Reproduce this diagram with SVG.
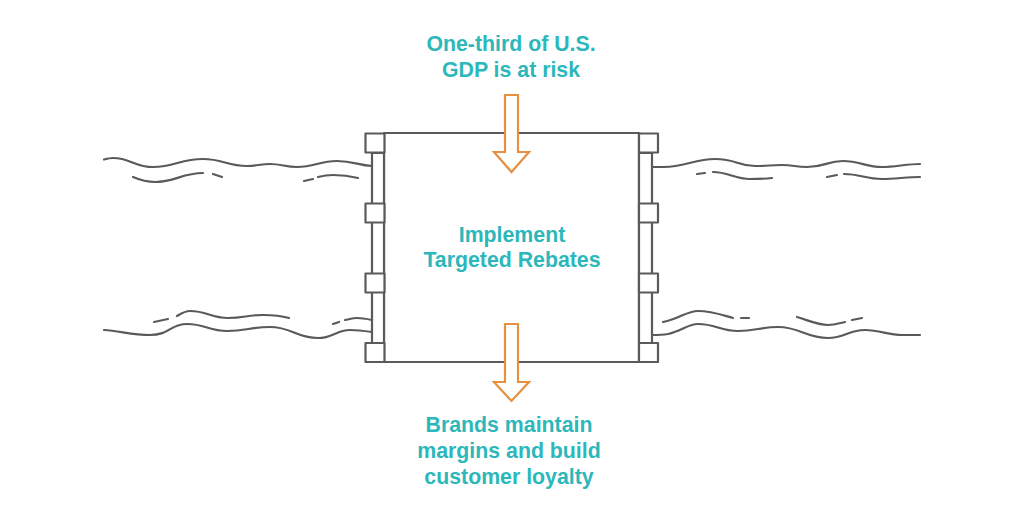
<svg xmlns="http://www.w3.org/2000/svg" width="1024" height="512" viewBox="0 0 1024 512">
<style>
.w{fill:none;stroke:#5a5a5a;stroke-width:2.200;stroke-linecap:round;stroke-linejoin:round}
.b{fill:#fff;stroke:#5a5a5a;stroke-width:2.200;stroke-linejoin:round}
.a{fill:#fff;stroke:#e5913f;stroke-width:2.200;stroke-linejoin:miter}
.t{font-family:"Liberation Sans",Arial,sans-serif;font-weight:700;font-size:21.300px;fill:#2cb7ba;text-anchor:middle}
</style>
<rect width="1024" height="512" fill="#fff"/>
<g id="connectors">
<g id="river-top-left" class="w">
<path d="M104 159.500C108 158.500 110 158 113 158C130 158 135 167 153 167C175 167 180 159 203 159C223 159 227 166 247 166C257 166 260 164 270 164C282 164 285 167 297 167C315 167 319 161 337 161C353 161 358 165 372 166"/>
<path d="M133 177C140 180 147 182 155 182C175 182 182 173 203 173"/>
<path d="M213 174L222 177"/>
<path d="M304 181L313 179"/>
<path d="M318 177C324 175.500 328 175 333 175C343 175 350 176 358 178"/>
</g>
<g id="river-bottom-left" class="w">
<path d="M104 330C120 331 132 335 150 335C170 335 170 324 187 324C205 324 209 331 227 331C246 331 251 327 270 327C292 327 296 338 318 338C333 338 336 330 350 330C358 330 365 331 372 332"/>
<path d="M154 322L168 319"/>
<path d="M177 316C182 313 185 311 190 311C207 311 211 318 228 318C244 318 247 315 263 315C274 315 282 316 289 318"/>
<path d="M333 324L339 322"/>
<path d="M345 320C350 319 353 318 357 318C362 318 367 319 372 320"/>
</g>
<g id="river-top-right" class="w">
<path d="M652 167C658 167 660 167 664 167C684 167 695 159 715 159C737 159 737 166 755 166C768 166 770 165 782 165C794 165 795 167 807 167C825 167 827 161 843 161C860 161 866 167 882 167C895 167 907 164 920 164"/>
<path d="M697 174L705 173"/>
<path d="M713 172C728 172 735 179 750 179C758 179 764 179 772 178"/>
<path d="M827 177L837 175"/>
<path d="M844 174C860 174 866 179 882 179C895 179 907 177 920 177"/>
</g>
<g id="river-bottom-right" class="w">
<path d="M652 335C658 335 662 335 668 334C682 331 688 324 698 324C716 324 720 331 738 331C756 331 760 327 778 327C800 327 806 338 828 338C845 338 848 330 865 330C880 330 888 335 902 335C908 335 914 335 920 335"/>
<path d="M663 322C680 319 686 311 698 311C712 311 722 315 733 318"/>
<path d="M741 318L749 318"/>
<path d="M797 317C810 321 818 325 828 325C835 325 840 323 845 322"/>
<path d="M852 320L862 318"/>
</g>
</g>
<g id="dam">
<rect class="b" x="384" y="133" width="255" height="229"/>
<rect class="b" x="372" y="153" width="12" height="190"/>
<rect class="b" x="639" y="153" width="13" height="190"/>
<rect class="b" x="365.500" y="133.500" width="19" height="19"/>
<rect class="b" x="365.500" y="203.500" width="19" height="19"/>
<rect class="b" x="365.500" y="273.500" width="19" height="19"/>
<rect class="b" x="365.500" y="343" width="19" height="19"/>
<rect class="b" x="639" y="133.500" width="19" height="19"/>
<rect class="b" x="639" y="203.500" width="19" height="19"/>
<rect class="b" x="639" y="273.500" width="19" height="19"/>
<rect class="b" x="639" y="343" width="19" height="19"/>
</g>
<g id="arrow-in"><path class="a" d="M505 95H518V152H529L511.500 172L494 152H505Z"/></g>
<g id="arrow-out"><path class="a" d="M505 324H518V382H529L511.500 401L494 382H505Z"/></g>
<g id="label-top"><text class="t" x="511" y="51">One-third of U.S.</text><text class="t" x="511" y="77">GDP is at risk</text></g>
<g id="label-center"><text class="t" x="512" y="242">Implement</text><text class="t" x="512" y="267">Targeted Rebates</text></g>
<g id="label-bottom"><text class="t" x="509" y="432">Brands maintain</text><text class="t" x="509" y="458">margins and build</text><text class="t" x="509" y="484">customer loyalty</text></g>
</svg>
